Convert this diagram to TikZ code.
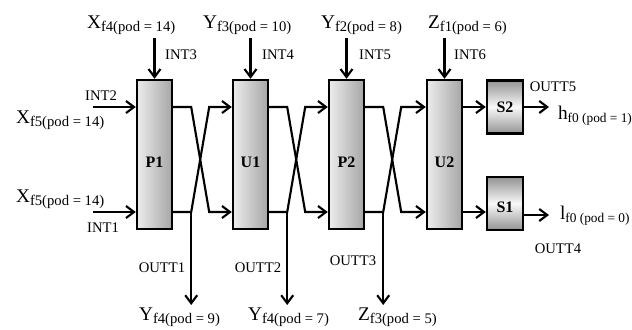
\documentclass[tikz,border=0pt]{standalone}
\usepackage{fontspec}
\setmainfont{Liberation Serif}
\usetikzlibrary{arrows.meta,calc}

\tikzset{every picture/.style={line width=1.6pt}}
\tikzset{
  flow/.style={-{Straight Barb[length=6pt,width=9pt]}},
  colbox/.style={draw, line width=1.8pt, minimum width=26.25pt, minimum height=111.75pt, inner sep=0pt, left color=gray!15, right color=gray!70},
  sbox/.style={draw, line width=1.8pt, minimum width=27pt, minimum height=40pt, inner sep=0pt, top color=gray!85, bottom color=gray!85, middle color=gray!5},
  boxlbl/.style={font=\fontsize{12}{12}\selectfont\bfseries, inner sep=0.75pt},
  tag/.style={font=\fontsize{11}{11}\selectfont, inner sep=0.75pt},
  strmlbl/.style={anchor=base west, inner sep=0.75pt}
}
\newcommand{\strm}[2]{{\fontsize{14.5}{14.5}\selectfont #1}\raisebox{-0.55ex}{\fontsize{11}{11}\selectfont #2}}

\begin{document}
\begin{tikzpicture}[x=0.75pt,y=0.75pt,yscale=-1,xscale=1]
\useasboundingbox (0,0) rectangle (632,329);

% rows and rails
\coordinate (hi) at (0,107);
\coordinate (lo) at (0,212);
\coordinate (lo2) at (0,215);
\coordinate (top) at (0,38);
\coordinate (lft) at (93,0);
\coordinate (bot) at (0,305);
\coordinate (rgt) at (549,0);

% Columns
\node[colbox] (P1) at (154.5,154.5) {};
\node[colbox] (U1) at (250.5,154.5) {};
\node[colbox] (P2) at (346.5,154.5) {};
\node[colbox] (U2) at (444.5,154.5) {};
\node[boxlbl] (P1t) at (154.5,162) {P1};
\node[boxlbl] (U1t) at (250.5,162) {U1};
\node[boxlbl] (P2t) at (346.5,162) {P2};
\node[boxlbl] (U2t) at (444.5,162) {U2};

% Splitters
\node[sbox] (S2) at (505,107) {};
\node[sbox] (S1) at (505,203.5) {};
\node[boxlbl] (S2t) at (505,107) {S2};
\node[boxlbl] (S1t) at (505,207) {S1};

% Stream labels
\node[strmlbl] (xin4) at (85,28) {\strm{X}{f4(pod = 14)}};
\node[strmlbl] (yin3) at (201,28) {\strm{Y}{f3(pod = 10)}};
\node[strmlbl] (yin2) at (319,28) {\strm{Y}{f2(pod = 8)}};
\node[strmlbl] (zin1) at (426,28) {\strm{Z}{f1(pod = 6)}};
\node[strmlbl] (xin5a) at (14,123) {\strm{X}{f5(pod = 14)}};
\node[strmlbl] (xin5b) at (14,202) {\strm{X}{f5(pod = 14)}};
\node[strmlbl] (yout1) at (137,320) {\strm{Y}{f4(pod = 9)}};
\node[strmlbl] (yout2) at (246,320) {\strm{Y}{f4(pod = 7)}};
\node[strmlbl] (zout3) at (356,320) {\strm{Z}{f3(pod = 5)}};
\node[strmlbl] (hout) at (556,119) {\strm{h}{\fontsize{10}{10}\selectfont f0 (pod = 1)}};
\node[strmlbl] (lout) at (558,219) {\strm{l}{\fontsize{10}{10}\selectfont f0 (pod = 0)}};

% Stream tags
\node[tag] (int2) at (101,96) {INT2};
\node[tag] (int1) at (103,228) {INT1};
\node[tag] (int3) at (181,55) {INT3};
\node[tag] (int4) at (278,55) {INT4};
\node[tag] (int5) at (375,55) {INT5};
\node[tag] (int6) at (470,55) {INT6};
\node[tag] (outt1) at (162,268) {OUTT1};
\node[tag] (outt2) at (258,268) {OUTT2};
\node[tag] (outt3) at (353,261) {OUTT3};
\node[tag] (outt5) at (553,87) {OUTT5};
\node[tag] (outt4) at (558,249) {OUTT4};

% Feeds
\draw[flow] (lft |- hi) -- (P1.west |- hi);
\draw[flow] (lft |- lo) -- (P1.west |- lo);
\draw[flow] (P1.north |- top) -- (P1.north);
\draw[flow] (U1.north |- top) -- (U1.north);
\draw[flow] (P2.north |- top) -- (P2.north);
\draw[flow] (U2.north |- top) -- (U2.north);

% Crossings
\draw[flow] (P1.east |- hi) -- ++(18,0) -- ++(18,105) -- (U1.west |- lo);
\draw[flow] (P1.east |- lo) -- ++(18,0) -- ++(18,-105) -- (U1.west |- hi);
\draw[flow] (U1.east |- hi) -- ++(18,0) -- ++(18,105) -- (P2.west |- lo);
\draw[flow] (U1.east |- lo) -- ++(18,0) -- ++(18,-105) -- (P2.west |- hi);
\draw[flow] (P2.east |- hi) -- ++(18,0) -- ++(18,105) -- (U2.west |- lo);
\draw[flow] (P2.east |- lo) -- ++(18,0) -- ++(18,-105) -- (U2.west |- hi);

% Draw-offs
\coordinate (o1) at ($(P1.east |- lo)+(18,0)$);
\coordinate (o2) at ($(U1.east |- lo)+(18,0)$);
\coordinate (o3) at ($(P2.east |- lo)+(18,0)$);
\draw[flow] (o1) -- (o1 |- bot);
\draw[flow] (o2) -- (o2 |- bot);
\draw[flow] (o3) -- (o3 |- bot);

% Products
\draw[flow] (U2.east |- S2) -- (S2.west);
\draw[flow] (U2.east |- lo) -- (S1.west |- lo);
\draw[flow] (S2.east) -- (rgt |- S2);
\draw[flow] (S1.east |- lo2) -- (rgt |- lo2);

\end{tikzpicture}
\end{document}
